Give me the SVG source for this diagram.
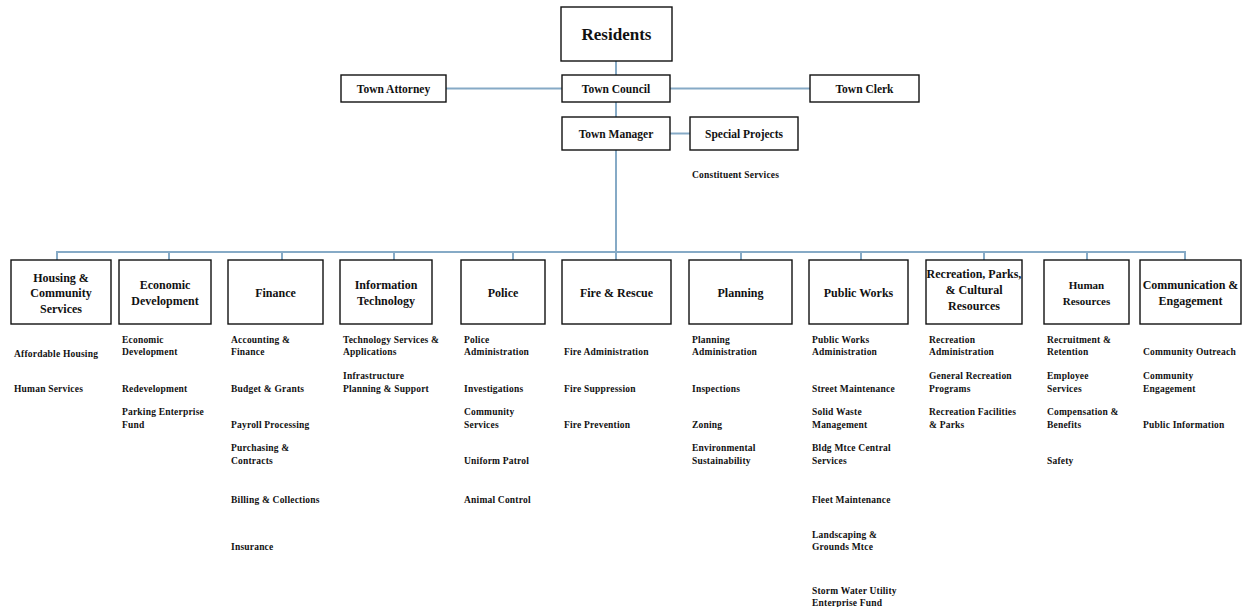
<svg xmlns="http://www.w3.org/2000/svg" width="1244" height="607" viewBox="0 0 1244 607">
<style>
.bg{fill:#ffffff}
.box{fill:#ffffff;stroke:#111;stroke-width:1.4}
.ln{stroke:#86aac6;stroke-width:2;fill:none}
text{font-family:"Liberation Serif","Times New Roman",serif;font-weight:bold;fill:#111}
.t{font-size:12px;text-anchor:middle}
.h{font-size:11.5px;text-anchor:middle}
.r{font-size:17px;text-anchor:middle}
.s{font-size:9.5px;letter-spacing:0.2px}
</style>
<rect class="bg" x="0" y="0" width="1244" height="607"/>
<g id="connectors">
<line class="ln" x1="616" y1="61" x2="616" y2="75"/>
<line class="ln" x1="446" y1="88.5" x2="562" y2="88.5"/>
<line class="ln" x1="670" y1="88.5" x2="810" y2="88.5"/>
<line class="ln" x1="616" y1="102" x2="616" y2="117"/>
<line class="ln" x1="670" y1="133.5" x2="690" y2="133.5"/>
<line class="ln" x1="616" y1="150" x2="616" y2="260"/>
<line class="ln" x1="56" y1="252" x2="1186" y2="252"/>
<line class="ln" x1="57" y1="252" x2="57" y2="260"/>
<line class="ln" x1="169" y1="252" x2="169" y2="260"/>
<line class="ln" x1="282" y1="252" x2="282" y2="260"/>
<line class="ln" x1="394" y1="252" x2="394" y2="260"/>
<line class="ln" x1="513" y1="252" x2="513" y2="260"/>
<line class="ln" x1="741" y1="252" x2="741" y2="260"/>
<line class="ln" x1="861" y1="252" x2="861" y2="260"/>
<line class="ln" x1="984" y1="252" x2="984" y2="260"/>
<line class="ln" x1="1087" y1="252" x2="1087" y2="260"/>
<line class="ln" x1="1185" y1="252" x2="1185" y2="260"/>
</g>
<g id="residents"><rect class="box" x="561" y="7" width="111" height="54"/><text class="r" x="616.5" y="40">Residents</text></g>
<g id="town-attorney"><rect class="box" x="341" y="75" width="105" height="27"/><text class="h" x="393.5" y="92.5">Town Attorney</text></g>
<g id="town-council"><rect class="box" x="562" y="75" width="108" height="27"/><text class="h" x="616" y="92.5">Town Council</text></g>
<g id="town-clerk"><rect class="box" x="810" y="75" width="109" height="27"/><text class="h" x="864.5" y="92.5">Town Clerk</text></g>
<g id="town-manager"><rect class="box" x="562" y="117" width="108" height="33"/><text class="h" x="616" y="137.5">Town Manager</text></g>
<g id="special-projects"><rect class="box" x="690" y="117" width="108" height="33"/><text class="h" x="744" y="137.5">Special Projects</text><text class="s" x="692" y="177.5">Constituent Services</text></g>

<g id="housing"><rect class="box" x="11" y="260" width="100" height="64"/>
<text class="t" x="61" y="281.5">Housing &amp;</text><text class="t" x="61" y="297">Community</text><text class="t" x="61" y="313">Services</text>
<text class="s" x="14" y="356.5">Affordable Housing</text><text class="s" x="14" y="391.5">Human Services</text></g>

<g id="economic"><rect class="box" x="119" y="260" width="92" height="64"/>
<text class="t" x="165" y="289">Economic</text><text class="t" x="165" y="305">Development</text>
<text class="s" x="122" y="342.5">Economic</text><text class="s" x="122" y="354.5">Development</text>
<text class="s" x="122" y="391.5">Redevelopment</text>
<text class="s" x="122" y="414.5">Parking Enterprise</text><text class="s" x="122" y="427.5">Fund</text></g>

<g id="finance"><rect class="box" x="228" y="260" width="95" height="64"/>
<text class="t" x="275.5" y="297">Finance</text>
<text class="s" x="231" y="342.5">Accounting &amp;</text><text class="s" x="231" y="354.5">Finance</text>
<text class="s" x="231" y="391.5">Budget &amp; Grants</text>
<text class="s" x="231" y="427.5">Payroll Processing</text>
<text class="s" x="231" y="450.5">Purchasing &amp;</text><text class="s" x="231" y="464">Contracts</text>
<text class="s" x="231" y="502.5">Billing &amp; Collections</text>
<text class="s" x="231" y="550">Insurance</text></g>

<g id="it"><rect class="box" x="340" y="260" width="92" height="64"/>
<text class="t" x="386" y="289">Information</text><text class="t" x="386" y="305">Technology</text>
<text class="s" x="343" y="342.5">Technology Services &amp;</text><text class="s" x="343" y="354.5">Applications</text>
<text class="s" x="343" y="378.5">Infrastructure</text><text class="s" x="343" y="391.5">Planning &amp; Support</text></g>

<g id="police"><rect class="box" x="461" y="260" width="84" height="64"/>
<text class="t" x="503" y="297">Police</text>
<text class="s" x="464" y="342.5">Police</text><text class="s" x="464" y="354.5">Administration</text>
<text class="s" x="464" y="391.5">Investigations</text>
<text class="s" x="464" y="414.5">Community</text><text class="s" x="464" y="427.5">Services</text>
<text class="s" x="464" y="464">Uniform Patrol</text>
<text class="s" x="464" y="502.5">Animal Control</text></g>

<g id="fire"><rect class="box" x="562" y="260" width="109" height="64"/>
<text class="t" x="616.5" y="297">Fire &amp; Rescue</text>
<text class="s" x="564" y="354.5">Fire Administration</text>
<text class="s" x="564" y="391.5">Fire Suppression</text>
<text class="s" x="564" y="427.5">Fire Prevention</text></g>

<g id="planning"><rect class="box" x="689" y="260" width="103" height="64"/>
<text class="t" x="740.5" y="297">Planning</text>
<text class="s" x="692" y="342.5">Planning</text><text class="s" x="692" y="354.5">Administration</text>
<text class="s" x="692" y="391.5">Inspections</text>
<text class="s" x="692" y="427.5">Zoning</text>
<text class="s" x="692" y="450.5">Environmental</text><text class="s" x="692" y="464">Sustainability</text></g>

<g id="public-works"><rect class="box" x="809" y="260" width="99" height="64"/>
<text class="t" x="858.5" y="297">Public Works</text>
<text class="s" x="812" y="342.5">Public Works</text><text class="s" x="812" y="354.5">Administration</text>
<text class="s" x="812" y="391.5">Street Maintenance</text>
<text class="s" x="812" y="414.5">Solid Waste</text><text class="s" x="812" y="427.5">Management</text>
<text class="s" x="812" y="450.5">Bldg Mtce Central</text><text class="s" x="812" y="464">Services</text>
<text class="s" x="812" y="503">Fleet Maintenance</text>
<text class="s" x="812" y="537.5">Landscaping &amp;</text><text class="s" x="812" y="550">Grounds Mtce</text>
<text class="s" x="812" y="593.5">Storm Water Utility</text><text class="s" x="812" y="606">Enterprise Fund</text></g>

<g id="recreation"><rect class="box" x="926" y="260" width="96" height="64"/>
<text class="t" x="974" y="278">Recreation, Parks,</text><text class="t" x="974" y="294">&amp; Cultural</text><text class="t" x="974" y="310">Resources</text>
<text class="s" x="929" y="342.5">Recreation</text><text class="s" x="929" y="354.5">Administration</text>
<text class="s" x="929" y="378.5">General Recreation</text><text class="s" x="929" y="391.5">Programs</text>
<text class="s" x="929" y="414.5">Recreation Facilities</text><text class="s" x="929" y="427.5">&amp; Parks</text></g>

<g id="human-resources"><rect class="box" x="1044" y="260" width="85" height="64"/>
<text class="t" x="1086.5" y="289" style="font-size:11px">Human</text><text class="t" x="1086.5" y="305" style="font-size:11px">Resources</text>
<text class="s" x="1047" y="342.5">Recruitment &amp;</text><text class="s" x="1047" y="354.5">Retention</text>
<text class="s" x="1047" y="378.5">Employee</text><text class="s" x="1047" y="391.5">Services</text>
<text class="s" x="1047" y="414.5">Compensation &amp;</text><text class="s" x="1047" y="427.5">Benefits</text>
<text class="s" x="1047" y="464">Safety</text></g>

<g id="communication"><rect class="box" x="1140" y="260" width="101" height="64"/>
<text class="t" x="1190.5" y="289">Communication &amp;</text><text class="t" x="1190.5" y="305">Engagement</text>
<text class="s" x="1143" y="354.5">Community Outreach</text>
<text class="s" x="1143" y="378.5">Community</text><text class="s" x="1143" y="391.5">Engagement</text>
<text class="s" x="1143" y="427.5">Public Information</text></g>
</svg>
